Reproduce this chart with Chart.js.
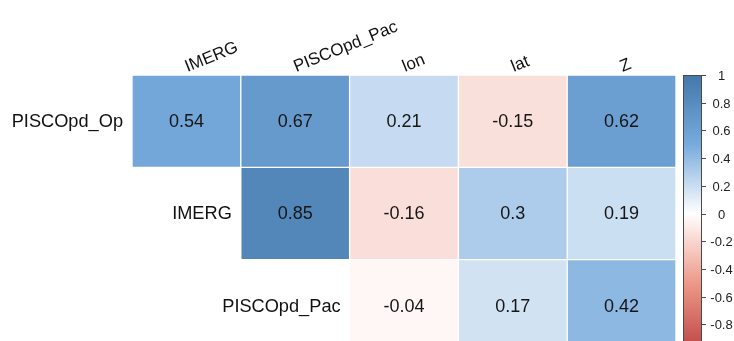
<!DOCTYPE html>
<html>
<head>
<meta charset="utf-8">
<script src="https://cdn.jsdelivr.net/npm/chart.js@4/dist/chart.umd.min.js"></script>
<style>
  html, body { margin: 0; padding: 0; background: #fff; overflow: hidden; width: 734px; height: 341px; }
  canvas { display: block; }
</style>
</head>
<body>
<canvas id="corr" width="734" height="362"></canvas>
<script>
// Correlation matrix (upper triangle): rows against columns
const rowVars = ['PISCOpd_Op', 'IMERG', 'PISCOpd_Pac'];
const colVars = ['IMERG', 'PISCOpd_Pac', 'lon', 'lat', 'Z'];
const corrPISCOpdOp  = [0.54, 0.67, 0.21, -0.15, 0.62];
const corrIMERG      = [null, 0.85, -0.16, 0.30, 0.19];
const corrPISCOpdPac = [null, null, -0.04, 0.17, 0.42];
const legendTicks = [1, 0.8, 0.6, 0.4, 0.2, 0, -0.2, -0.4, -0.6, -0.8, -1];
const paletteStops = ['#BB4444', '#EE9988', '#FFFFFF', '#77AADD', '#4477AA'];

const corrRows = [corrPISCOpdOp, corrIMERG, corrPISCOpdPac];

function hexToRgb(h) {
  const n = parseInt(h.slice(1), 16);
  return [(n >> 16) & 255, (n >> 8) & 255, n & 255];
}
const stopRgb = paletteStops.map(hexToRgb);

// Diverging palette: -1 -> red, 0 -> white, 1 -> blue
function colorFor(v) {
  if (v === null) return 'rgba(0,0,0,0)';
  const t = Math.max(0, Math.min(1, (v + 1) / 2)) * (stopRgb.length - 1);
  const i = Math.min(stopRgb.length - 2, Math.floor(t));
  const f = t - i;
  const a = stopRgb[i], b = stopRgb[i + 1];
  const c = a.map((x, k) => Math.round(x + (b[k] - x) * f));
  return `rgb(${c[0]},${c[1]},${c[2]})`;
}

const FONT = '"Liberation Sans", Arial, Helvetica, sans-serif';

const datasets = corrRows.map((vals, r) => ({
  label: rowVars[r],
  data: vals.map(v => (v === null ? null : [r, r + 1])),
  backgroundColor: vals.map(colorFor),
  borderColor: 'rgba(255,255,255,0.3)',
  borderWidth: 1,
  borderSkipped: false,
  grouped: false,
  barPercentage: 1,
  categoryPercentage: 1
}));

// text drawn slightly widened, like the sans face used for the labels
function wideText(ctx, text, x, y, sx) {
  ctx.save();
  ctx.translate(x, y);
  ctx.scale(sx, 1);
  ctx.fillText(text, 0, 0);
  ctx.restore();
}

const corrLabels = {
  id: 'corrLabels',
  afterDatasetsDraw(chart) {
    const ctx = chart.ctx;
    const xs = chart.scales.x, ys = chart.scales.y, cb = chart.scales.cb;
    const halfW = (xs.getPixelForValue(1) - xs.getPixelForValue(0)) / 2;
    ctx.save();

    // values inside the cells
    ctx.fillStyle = '#161616';
    ctx.font = `18px ${FONT}`;
    ctx.textAlign = 'center';
    ctx.textBaseline = 'middle';
    corrRows.forEach((vals, r) => {
      vals.forEach((v, c) => {
        if (v === null) return;
        ctx.fillText(String(v), xs.getPixelForValue(c), ys.getPixelForValue(r + 0.5) + 1);
      });
    });

    // row names along the diagonal
    ctx.fillStyle = '#111';
    ctx.font = `17.5px ${FONT}`;
    ctx.textAlign = 'right';
    rowVars.forEach((name, r) => {
      const x = xs.getPixelForValue(r) - halfW - 9;
      wideText(ctx, name, x, ys.getPixelForValue(r + 0.5) + 1, 1.04);
    });

    // slanted column names above the grid
    ctx.font = `17px ${FONT}`;
    ctx.textAlign = 'left';
    ctx.textBaseline = 'alphabetic';
    colVars.forEach((name, c) => {
      ctx.save();
      ctx.translate(xs.getPixelForValue(c) + 1, chart.chartArea.top - 3);
      ctx.rotate(-22 * Math.PI / 180);
      ctx.fillText(name, 0, 0);
      ctx.restore();
    });

    // colour legend
    const x0 = 683, w = 19;
    const yTop = cb.getPixelForValue(1), yBot = cb.getPixelForValue(-1);
    const grad = ctx.createLinearGradient(0, yTop, 0, yBot);
    for (let k = 0; k <= 40; k++) {
      const v = 1 - k / 20;
      grad.addColorStop(k / 40, colorFor(v));
    }
    ctx.fillStyle = grad;
    ctx.fillRect(x0, yTop, w, yBot - yTop);
    ctx.strokeStyle = '#4a4a4a';
    ctx.lineWidth = 1;
    ctx.strokeRect(x0 + 0.5, yTop + 0.5, w - 1, yBot - yTop - 1);

    ctx.fillStyle = '#222';
    ctx.font = `13px ${FONT}`;
    ctx.textAlign = 'center';
    ctx.textBaseline = 'middle';
    legendTicks.forEach(t => {
      const y = Math.round(cb.getPixelForValue(t)) + 0.5;
      ctx.beginPath();
      ctx.moveTo(x0 + w, y);
      ctx.lineTo(x0 + w + 4, y);
      ctx.stroke();
      ctx.fillText(String(t), 721.5, y + 1);
    });
    ctx.restore();
  }
};

new Chart(document.getElementById('corr'), {
  type: 'bar',
  data: { labels: colVars, datasets },
  options: {
    responsive: false,
    animation: false,
    devicePixelRatio: 1,
    layout: { padding: { left: 132, top: 75, right: 58, bottom: 10 } },
    plugins: { legend: { display: false }, tooltip: { enabled: false } },
    scales: {
      x: { type: 'category', display: false, offset: true, grid: { display: false } },
      y: { type: 'linear', display: false, min: 0, max: 3, reverse: true, grid: { display: false } },
      cb: { type: 'linear', axis: 'y', position: 'right', display: false, min: -1, max: 1 }
    }
  },
  plugins: [corrLabels]
});
</script>
</body>
</html>
